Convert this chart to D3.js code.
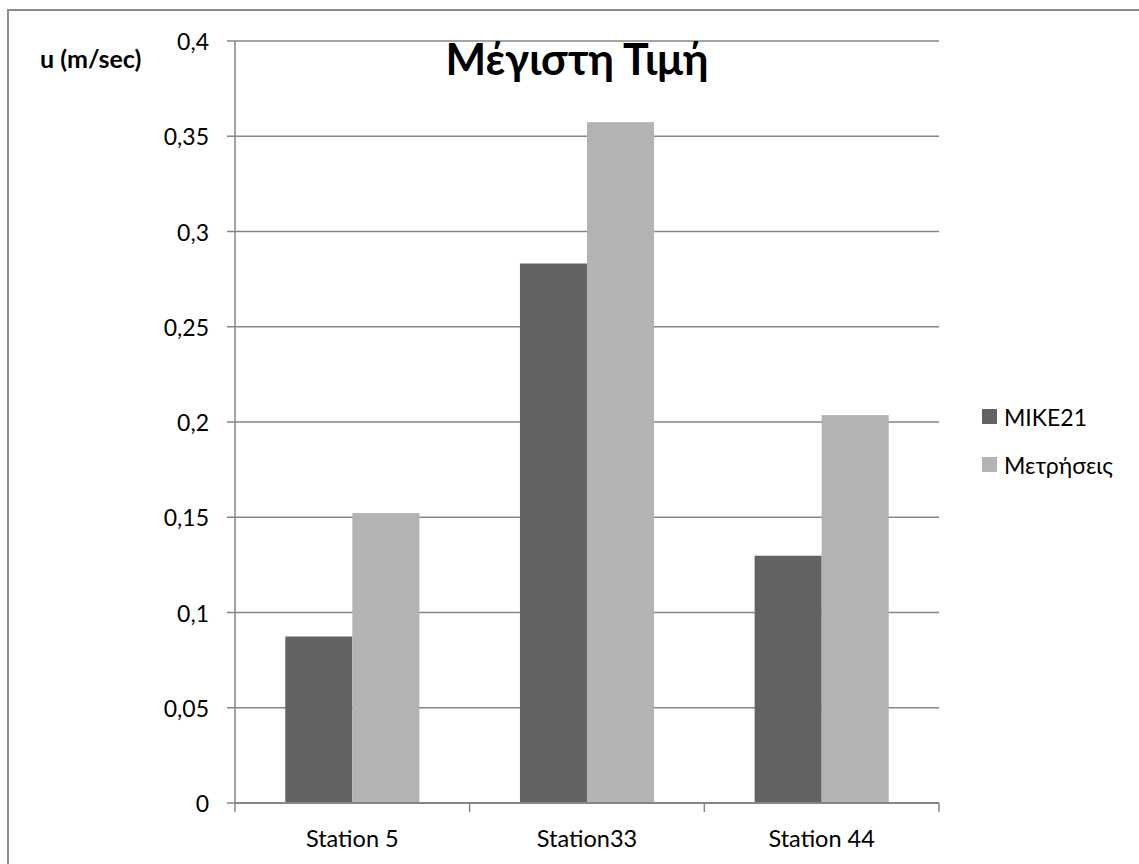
<!DOCTYPE html>
<html>
<head>
<meta charset="utf-8">
<script src="https://cdn.jsdelivr.net/npm/d3@7"></script>
<style>
  html, body { margin: 0; padding: 0; background: #fff; }
  svg { display: block; }
  text { font-family: Lato, "Open Sans", sans-serif; fill: #000; }
</style>
</head>
<body>
<svg id="chart" width="1139" height="864"></svg>
<script>
// Stations and maximum velocity values (m/sec)
const stations = ["Station 5", "Station33", "Station 44"];
const seriesNames = ["MIKE21", "Μετρήσεις"];
const mike21 = [0.0874, 0.2832, 0.1298];
const measured = [0.1522, 0.3574, 0.2036];
const yTicks = [0, 0.05, 0.1, 0.15, 0.2, 0.25, 0.3, 0.35, 0.4];
const seriesColors = ["#636363", "#b3b3b3"];

const svg = d3.select("#chart");
const plot = { left: 235, right: 939, top: 41, bottom: 803 };
const gridColor = "#868686";

// outer chart frame
svg.append("rect")
  .attr("x", 8).attr("y", 10)
  .attr("width", 1200).attr("height", 900)
  .attr("fill", "none").attr("stroke", "#8c8c8c").attr("stroke-width", 2);

const x0 = d3.scaleBand().domain(stations).range([plot.left, plot.right]).paddingInner(0).paddingOuter(0);
const x1 = d3.scaleBand().domain(seriesNames).range([0, x0.bandwidth()]).paddingInner(0).paddingOuter(0.75);
const y = d3.scaleLinear().domain([0, 0.4]).range([plot.bottom, plot.top]);

const fmt = d => d3.format("")(+d.toFixed(2)).replace(".", ",");

// horizontal gridlines
svg.append("g").selectAll("line").data(yTicks).join("line")
  .attr("x1", plot.left - 8).attr("x2", plot.right)
  .attr("y1", d => y(d)).attr("y2", d => y(d))
  .attr("stroke", gridColor).attr("stroke-width", 1.5);

// y tick labels
svg.append("g").selectAll("text").data(yTicks).join("text")
  .attr("x", 209).attr("y", d => y(d))
  .attr("text-anchor", "end").attr("dominant-baseline", "central")
  .style("font-size", "23px")
  .text(fmt);

// bars
const rows = stations.map((s, i) => ({ station: s, values: [mike21[i], measured[i]] }));
const groups = svg.append("g").selectAll("g").data(rows).join("g")
  .attr("transform", d => `translate(${x0(d.station)},0)`);
groups.selectAll("rect").data(d => d.values.map((v, j) => ({ key: seriesNames[j], v, j })))
  .join("rect")
  .attr("x", d => x1(d.key))
  .attr("width", x1.bandwidth())
  .attr("y", d => y(d.v))
  .attr("height", d => y(0) - y(d.v))
  .attr("fill", d => seriesColors[d.j]);

// y axis line
svg.append("line")
  .attr("x1", plot.left).attr("x2", plot.left)
  .attr("y1", plot.top).attr("y2", plot.bottom)
  .attr("stroke", gridColor).attr("stroke-width", 1.5);

// x axis line and ticks
svg.append("line")
  .attr("x1", plot.left).attr("x2", plot.right)
  .attr("y1", plot.bottom).attr("y2", plot.bottom)
  .attr("stroke", gridColor).attr("stroke-width", 2);
const xTickPos = stations.map(s => x0(s)).concat([plot.right]);
svg.append("g").selectAll("line").data(xTickPos).join("line")
  .attr("x1", d => d).attr("x2", d => d)
  .attr("y1", plot.bottom).attr("y2", plot.bottom + 9)
  .attr("stroke", gridColor).attr("stroke-width", 1.5);

// x category labels
svg.append("g").selectAll("text").data(stations).join("text")
  .attr("x", d => x0(d) + x0.bandwidth() / 2).attr("y", 847)
  .attr("text-anchor", "middle")
  .style("font-size", "23.5px")
  .text(d => d);

// title
svg.append("text")
  .attr("x", 577).attr("y", 75)
  .attr("text-anchor", "middle")
  .style("font-size", "43px").style("font-weight", "bold")
  .text("Μέγιστη Τιμή");

// y axis unit label
svg.append("text")
  .attr("x", 40).attr("y", 68)
  .style("font-size", "25px").style("font-weight", "bold")
  .text("u (m/sec)");

// legend
const legend = svg.append("g").selectAll("g").data(seriesNames).join("g")
  .attr("transform", (d, i) => `translate(982,${409 + i * 48})`);
legend.append("rect")
  .attr("width", 15).attr("height", 15)
  .attr("fill", (d, i) => seriesColors[i]);
legend.append("text")
  .attr("x", 22).attr("y", 8)
  .attr("dominant-baseline", "central")
  .style("font-size", "23px")
  .text(d => d);
</script>
</body>
</html>
